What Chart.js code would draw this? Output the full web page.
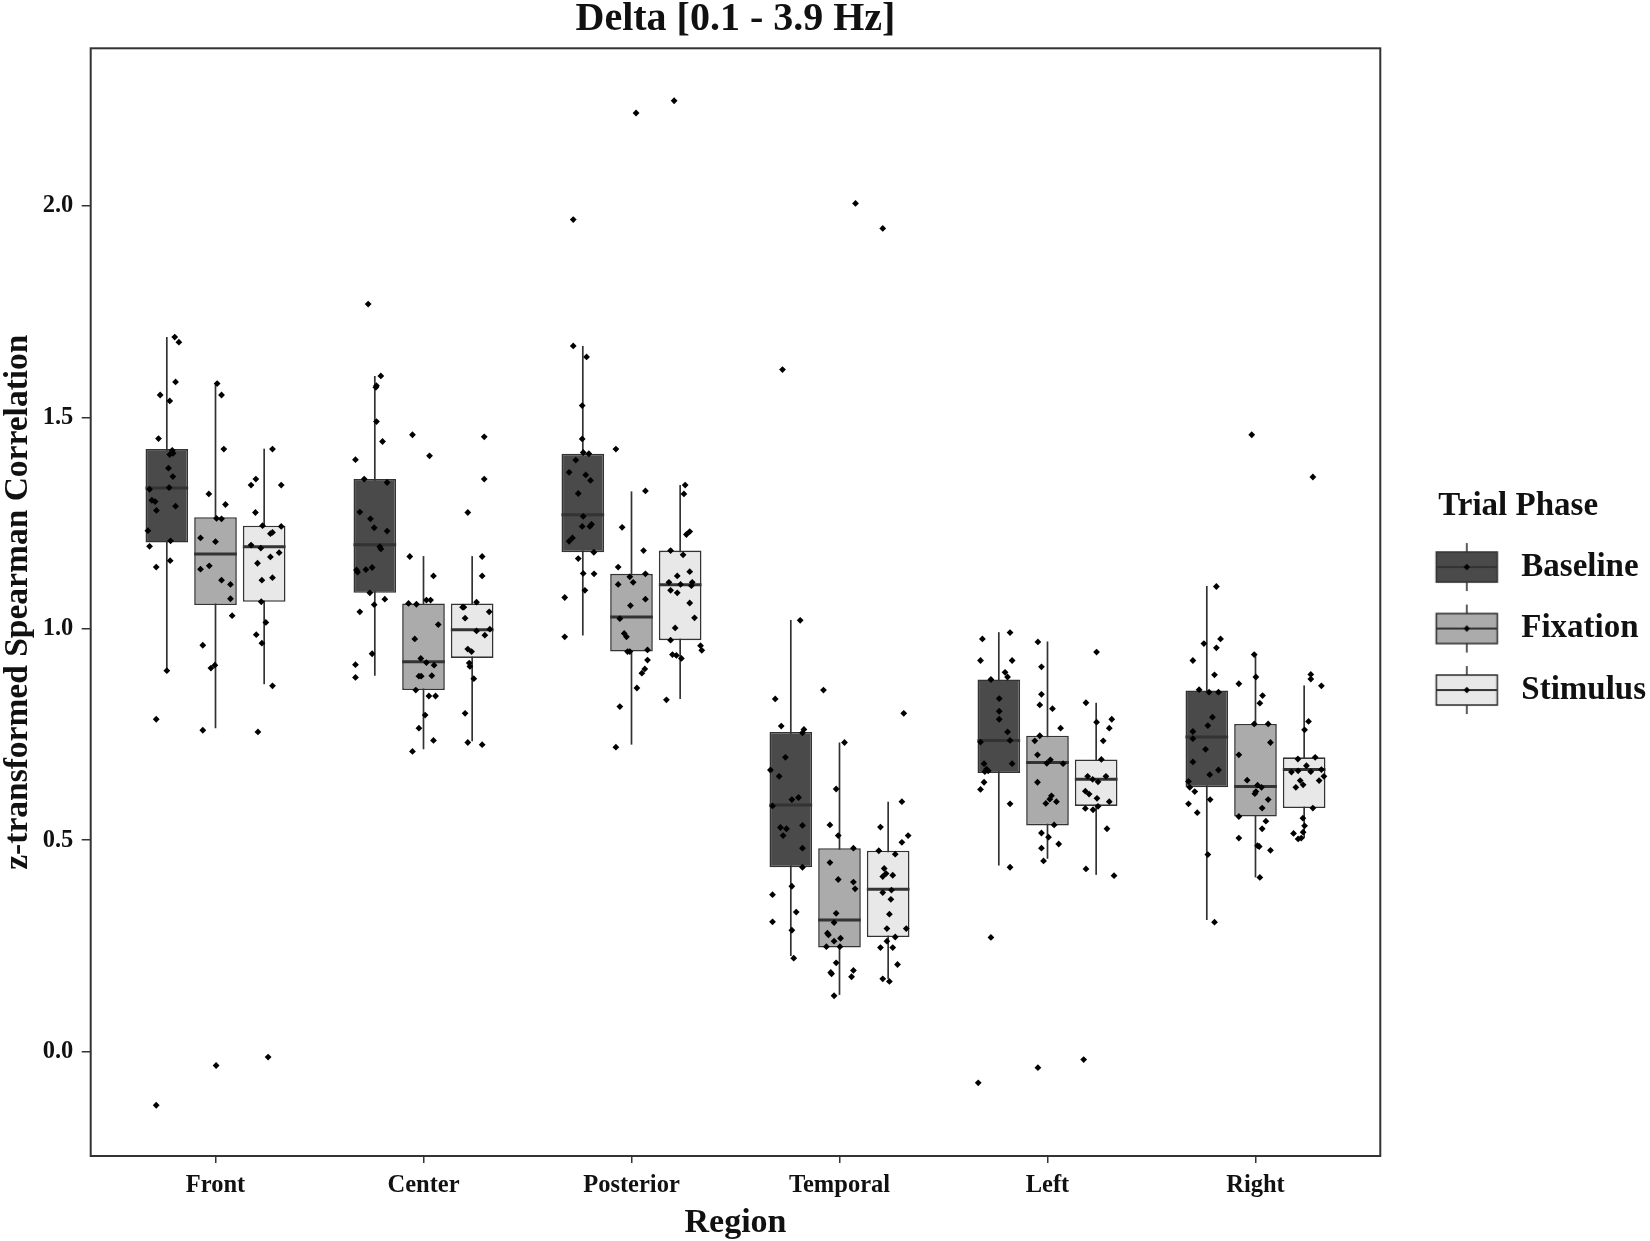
<!DOCTYPE html>
<html><head><meta charset="utf-8">
<script src="https://cdn.jsdelivr.net/npm/chart.js@4.4.1/dist/chart.umd.min.js"></script>
<style>html,body{margin:0;padding:0;background:#fff}#wrap{width:1650px;height:1241px}</style>
</head><body><div id="wrap"><canvas id="c" width="1650" height="1241"></canvas></div>
<script>
// ---------------- DATA ----------------
const regions = ["Front", "Center", "Posterior", "Temporal", "Left", "Right"];
const phases = ["Baseline", "Fixation", "Stimulus"];
const yTickValues = [0, 0.5, 1.0, 1.5, 2.0];

// box statistics per region (lower whisker, Q1, median, Q3, upper whisker)
const baselineLow    = [0.900, 0.889, 0.984, 0.226, 0.440, 0.311];
const baselineQ1     = [1.204, 1.085, 1.181, 0.436, 0.659, 0.625];
const baselineMedian = [1.333, 1.199, 1.270, 0.583, 0.736, 0.744];
const baselineQ3     = [1.425, 1.354, 1.414, 0.756, 0.880, 0.854];
const baselineHigh   = [1.690, 1.598, 1.669, 1.021, 0.992, 1.101];

const fixationLow    = [0.765, 0.715, 0.726, 0.134, 0.456, 0.412];
const fixationQ1     = [1.056, 0.855, 0.946, 0.246, 0.535, 0.556];
const fixationMedian = [1.177, 0.922, 1.028, 0.311, 0.684, 0.627];
const fixationQ3     = [1.264, 1.060, 1.130, 0.481, 0.747, 0.775];
const fixationHigh   = [1.580, 1.172, 1.325, 0.731, 0.970, 0.939];

const stimulusLow    = [0.869, 0.734, 0.834, 0.172, 0.418, 0.505];
const stimulusQ1     = [1.064, 0.931, 0.973, 0.271, 0.581, 0.576];
const stimulusMedian = [1.194, 0.998, 1.104, 0.384, 0.644, 0.667];
const stimulusQ3     = [1.244, 1.060, 1.185, 0.475, 0.691, 0.696];
const stimulusHigh   = [1.426, 1.172, 1.340, 0.591, 0.825, 0.866];

// individual subject values and their horizontal jitter (category units)
const frontBaseline = [1.690,1.678,1.584,1.553,1.539,1.450,1.422,1.412,1.415,1.380,1.360,1.330,1.334,1.304,1.301,1.280,1.290,1.232,1.195,1.208,1.146,1.161,0.901,0.786,-0.127];
const frontBaselineJitter = [0.038,0.058,0.042,-0.032,0.014,-0.040,0.026,0.014,0.030,0.008,0.029,-0.083,0.011,-0.072,-0.056,-0.050,0.042,-0.091,-0.083,0.018,-0.051,0.016,0.000,-0.051,-0.051];
const frontFixation = [1.580,1.553,1.425,1.319,1.294,1.215,1.261,1.260,1.206,1.149,1.141,1.115,1.105,1.071,1.031,0.961,0.907,0.914,0.760,-0.033];
const frontFixationJitter = [0.008,0.029,0.040,-0.032,0.048,-0.072,0.005,0.029,0.000,-0.030,-0.072,0.029,0.072,0.072,0.080,-0.061,-0.022,-0.003,-0.061,0.003];
const frontStimulus = [1.425,1.354,1.340,1.340,1.275,1.244,1.228,1.225,1.242,1.198,1.191,1.170,1.180,1.155,1.115,1.121,1.064,1.015,0.986,0.966,0.865,0.756,-0.013];
const frontStimulusJitter = [0.040,-0.040,-0.063,0.082,-0.042,-0.008,0.040,0.030,0.082,-0.063,-0.016,0.030,0.072,-0.032,-0.011,0.040,-0.014,0.008,-0.038,-0.011,0.040,-0.030,0.019];

const centerBaseline = [1.768,1.598,1.575,1.571,1.490,1.443,1.400,1.354,1.346,1.276,1.260,1.239,1.231,1.194,1.189,1.139,1.134,1.140,1.145,1.085,1.070,1.057,1.040,0.941,0.915,0.885];
const centerBaselineJitter = [-0.032,0.029,0.008,0.005,0.008,0.037,-0.093,-0.051,0.059,-0.072,-0.021,-0.003,0.059,0.024,0.029,-0.088,-0.083,-0.043,-0.013,-0.024,0.048,-0.003,-0.072,-0.013,-0.093,-0.093];
const centerFixation = [1.459,1.409,1.171,1.125,1.060,1.058,1.068,1.068,1.010,0.976,0.930,0.920,0.914,0.888,0.888,0.889,0.855,0.841,0.841,0.796,0.765,0.736,0.710];
const centerFixationJitter = [-0.053,0.029,-0.066,0.048,-0.072,-0.034,0.014,0.034,0.071,-0.042,-0.013,0.014,0.051,-0.022,-0.011,0.040,-0.037,0.026,0.058,0.008,-0.022,0.048,-0.053];
const centerStimulus = [1.454,1.354,1.275,1.171,1.125,1.051,1.051,1.063,1.040,1.025,0.995,0.999,0.985,0.952,0.946,0.919,0.911,0.882,0.800,0.731,0.726];
const centerStimulusJitter = [0.058,0.058,-0.021,0.048,0.048,-0.046,-0.040,0.021,0.082,-0.034,0.021,0.085,0.061,-0.021,-0.003,-0.014,-0.011,0.008,-0.034,-0.021,0.048];

const posteriorBaseline = [1.968,1.669,1.643,1.528,1.449,1.417,1.414,1.399,1.370,1.364,1.351,1.320,1.266,1.242,1.247,1.242,1.215,1.207,1.181,1.166,1.131,1.130,1.091,1.074,0.981];
const posteriorBaselineJitter = [-0.046,-0.046,0.018,-0.003,-0.003,0.002,0.029,-0.034,-0.066,0.014,0.037,-0.022,0.002,-0.003,0.042,0.034,-0.050,-0.066,0.053,-0.022,0.002,0.054,0.010,-0.087,-0.087];
const posteriorFixation = [2.220,1.425,1.326,1.240,1.185,1.146,1.105,1.123,1.110,1.130,1.070,1.055,1.024,0.989,0.981,0.946,0.946,0.950,0.926,0.905,0.895,0.860,0.816,0.720];
const posteriorFixationJitter = [0.022,-0.075,0.067,-0.045,0.058,-0.064,-0.064,-0.008,0.008,0.067,0.067,-0.005,-0.056,-0.035,-0.024,-0.019,-0.008,0.077,0.077,0.064,0.050,0.026,-0.056,-0.075];
const posteriorStimulus = [2.249,1.340,1.319,1.223,1.230,1.185,1.175,1.125,1.110,1.105,1.110,1.102,1.091,1.085,1.135,1.061,1.026,1.002,0.973,0.960,0.949,0.939,0.937,0.930,0.832];
const posteriorStimulusJitter = [-0.029,0.024,0.018,0.030,0.046,-0.046,0.014,-0.014,-0.054,0.002,0.058,0.054,-0.046,-0.014,0.046,0.046,0.069,-0.024,-0.046,0.098,0.104,-0.037,-0.018,0.006,-0.066];

const temporalBaseline = [1.613,1.020,0.834,0.770,0.762,0.754,0.696,0.666,0.651,0.601,0.596,0.581,0.530,0.527,0.511,0.535,0.481,0.436,0.391,0.371,0.330,0.307,0.287,0.221];
const temporalBaselineJitter = [-0.040,0.045,-0.075,-0.046,0.063,0.056,-0.026,-0.098,-0.056,0.037,0.005,-0.088,-0.050,-0.021,-0.037,0.056,0.056,0.056,0.005,-0.088,0.026,-0.088,0.005,0.014];
const temporalFixation = [2.006,0.855,0.731,0.621,0.536,0.511,0.481,0.447,0.407,0.401,0.385,0.327,0.305,0.280,0.276,0.268,0.261,0.248,0.248,0.210,0.187,0.184,0.192,0.177,0.132];
const temporalFixationJitter = [0.077,-0.077,0.024,-0.016,-0.046,-0.006,0.067,-0.046,-0.006,0.067,0.075,-0.016,-0.026,-0.058,-0.053,0.005,-0.026,-0.063,0.002,-0.016,-0.042,-0.038,0.067,0.058,-0.026];
const temporalStimulus = [1.947,0.800,0.591,0.531,0.511,0.495,0.475,0.467,0.433,0.414,0.417,0.421,0.376,0.382,0.360,0.325,0.291,0.291,0.271,0.261,0.246,0.246,0.206,0.172,0.166];
const temporalStimulusJitter = [-0.026,0.075,0.066,-0.037,0.096,0.066,-0.045,0.034,-0.019,-0.026,0.022,-0.010,-0.026,0.016,0.013,0.006,-0.006,0.087,0.034,-0.006,-0.037,0.022,0.045,-0.026,0.006];

const leftBaseline = [0.991,0.976,0.925,0.925,0.897,0.886,0.880,0.835,0.805,0.786,0.756,0.732,0.736,0.681,0.681,0.668,0.664,0.662,0.637,0.620,0.586,0.436,0.270,-0.074];
const leftBaselineJitter = [0.054,-0.079,-0.088,0.064,0.030,0.042,-0.038,0.002,0.002,0.002,0.042,-0.088,0.054,-0.071,0.064,-0.059,-0.051,-0.067,-0.071,-0.088,0.054,0.054,-0.038,-0.099];
const leftFixation = [0.969,0.910,0.845,0.820,0.811,0.765,0.747,0.735,0.702,0.690,0.682,0.681,0.637,0.605,0.597,0.587,0.591,0.536,0.517,0.507,0.481,0.491,0.451,-0.038];
const leftFixationJitter = [-0.046,-0.029,-0.029,-0.037,0.024,0.063,-0.037,-0.061,-0.048,0.014,-0.003,0.075,-0.048,0.019,0.011,-0.008,0.043,0.032,-0.029,0.005,-0.029,0.054,-0.019,-0.046];
const leftStimulus = [0.945,0.825,0.786,0.779,0.765,0.735,0.691,0.651,0.651,0.638,0.644,0.616,0.609,0.599,0.591,0.575,0.572,0.580,0.527,0.432,0.416,-0.019];
const leftStimulusJitter = [0.002,-0.049,0.075,0.002,0.063,0.034,0.025,-0.041,0.047,0.009,-0.017,-0.052,-0.034,0.004,0.063,-0.052,-0.015,0.009,0.052,-0.049,0.086,-0.060];

const rightBaseline = [1.100,0.976,0.955,0.965,0.925,0.891,0.856,0.850,0.850,0.791,0.771,0.757,0.740,0.715,0.685,0.666,0.655,0.639,0.625,0.615,0.596,0.586,0.565,0.466,0.306];
const rightBaselineJitter = [0.046,0.066,0.046,-0.014,-0.067,0.037,-0.037,0.011,0.056,0.027,0.005,-0.067,-0.067,-0.006,-0.067,0.056,0.014,-0.088,-0.082,-0.058,0.016,-0.088,-0.046,0.005,0.037];
const rightFixation = [1.459,0.939,0.886,0.870,0.842,0.824,0.775,0.775,0.731,0.702,0.642,0.630,0.625,0.615,0.610,0.596,0.576,0.556,0.545,0.527,0.505,0.487,0.485,0.476,0.412];
const rightFixationJitter = [-0.018,-0.006,0.002,-0.080,0.034,0.021,-0.006,0.061,0.072,-0.080,-0.040,0.010,0.029,0.002,-0.003,0.061,0.032,-0.080,0.050,0.032,-0.080,0.010,0.018,0.072,0.021];
const rightStimulus = [1.359,0.892,0.881,0.865,0.781,0.761,0.696,0.692,0.661,0.664,0.676,0.662,0.667,0.641,0.631,0.641,0.651,0.625,0.576,0.552,0.534,0.519,0.516,0.503,0.505];
const rightStimulusJitter = [0.042,0.032,0.032,0.083,0.021,0.002,0.053,-0.030,-0.061,-0.029,0.011,0.032,0.083,-0.019,-0.005,0.072,0.095,-0.040,0.042,-0.006,0.002,-0.005,-0.051,-0.029,-0.014];

// ---------------- BUILD ----------------
const FONT = "'Liberation Serif', 'Times New Roman', serif";
const TEXT = '#111111';
const LINE = '#333333';
const fills = ['#4a4a4a', '#ababab', '#e8e8e8'];
const dodge = [-0.234, 0, 0.234];

const boxStats = [
  {low: baselineLow, q1: baselineQ1, med: baselineMedian, q3: baselineQ3, high: baselineHigh},
  {low: fixationLow, q1: fixationQ1, med: fixationMedian, q3: fixationQ3, high: fixationHigh},
  {low: stimulusLow, q1: stimulusQ1, med: stimulusMedian, q3: stimulusQ3, high: stimulusHigh}
];
const pointTable = [
  [[frontBaseline, frontBaselineJitter], [frontFixation, frontFixationJitter], [frontStimulus, frontStimulusJitter]],
  [[centerBaseline, centerBaselineJitter], [centerFixation, centerFixationJitter], [centerStimulus, centerStimulusJitter]],
  [[posteriorBaseline, posteriorBaselineJitter], [posteriorFixation, posteriorFixationJitter], [posteriorStimulus, posteriorStimulusJitter]],
  [[temporalBaseline, temporalBaselineJitter], [temporalFixation, temporalFixationJitter], [temporalStimulus, temporalStimulusJitter]],
  [[leftBaseline, leftBaselineJitter], [leftFixation, leftFixationJitter], [leftStimulus, leftStimulusJitter]],
  [[rightBaseline, rightBaselineJitter], [rightFixation, rightFixationJitter], [rightStimulus, rightStimulusJitter]]
];

const scatterData = [];
pointTable.forEach((row, i) => row.forEach(([vals, jit], k) => {
  vals.forEach((v, j) => scatterData.push({x: i + 1 + dodge[k] + jit[j], y: v}));
}));

const boxDatasets = phases.map((p, k) => ({
  type: 'bar',
  label: p,
  data: regions.map((r, i) => ({x: i + 1 + dodge[k], y: [boxStats[k].q1[i], boxStats[k].q3[i]]})),
  backgroundColor: fills[k],
  borderColor: LINE,
  borderWidth: 1.6,
  borderSkipped: false,
  grouped: false,
  categoryPercentage: 1,
  barPercentage: 0.876,
  order: 2
}));

// legend key glyphs (boxplot key with whisker, median and point)
const KEY_W = 96;
function makeKey(fill) {
  const c = document.createElement('canvas');
  c.width = KEY_W; c.height = 52;
  const g = c.getContext('2d');
  const x0 = 27.5, w = 61, cx = x0 + w / 2;
  g.strokeStyle = LINE; g.lineWidth = 1.6;
  g.beginPath(); g.moveTo(cx, 2); g.lineTo(cx, 50); g.stroke();
  g.fillStyle = fill; g.fillRect(x0, 11, w, 30);
  g.strokeRect(x0, 11, w, 30);
  g.lineWidth = 2;
  g.beginPath(); g.moveTo(x0, 26); g.lineTo(x0 + w, 26); g.stroke();
  g.fillStyle = '#000';
  g.beginPath(); g.moveTo(cx, 22.8); g.lineTo(cx + 3.2, 26); g.lineTo(cx, 29.2); g.lineTo(cx - 3.2, 26); g.closePath(); g.fill();
  return c;
}
const keyImages = fills.map(makeKey);

const boxPlugin = {
  id: 'boxParts',
  beforeDatasetDraw(chart, args) {
    const k = args.index;
    if (k > 2) return;
    const xs = chart.scales.x, ys = chart.scales.y, ctx = chart.ctx;
    const s = boxStats[k];
    ctx.save();
    ctx.strokeStyle = LINE; ctx.lineWidth = 1.7;
    regions.forEach((r, i) => {
      const x = xs.getPixelForValue(i + 1 + dodge[k]);
      ctx.beginPath();
      ctx.moveTo(x, ys.getPixelForValue(s.low[i]));
      ctx.lineTo(x, ys.getPixelForValue(s.high[i]));
      ctx.stroke();
    });
    ctx.restore();
  },
  afterDatasetDraw(chart, args) {
    const k = args.index;
    if (k > 2) return;
    const xs = chart.scales.x, ys = chart.scales.y, ctx = chart.ctx;
    const meta = chart.getDatasetMeta(k);
    const s = boxStats[k];
    ctx.save();
    ctx.strokeStyle = LINE; ctx.lineWidth = 3;
    regions.forEach((r, i) => {
      const el = meta.data[i];
      const x = xs.getPixelForValue(i + 1 + dodge[k]);
      const hw = el.width / 2;
      const y = ys.getPixelForValue(s.med[i]);
      ctx.beginPath(); ctx.moveTo(x - hw, y); ctx.lineTo(x + hw, y); ctx.stroke();
    });
    ctx.restore();
  },
  afterDatasetsDraw(chart) {
    const a = chart.chartArea, ctx = chart.ctx;
    ctx.save();
    ctx.strokeStyle = LINE; ctx.lineWidth = 2;
    ctx.strokeRect(a.left, a.top, a.right - a.left, a.bottom - a.top);
    ctx.restore();
  }
};

Chart.defaults.font.family = FONT;
Chart.defaults.color = TEXT;

new Chart(document.getElementById('c'), {
  type: 'bar',
  data: {
    datasets: [
      ...boxDatasets,
      {
        type: 'scatter',
        label: 'subjects',
        data: scatterData,
        pointStyle: 'rectRot',
        pointRadius: 3.4,
        pointHoverRadius: 3.4,
        backgroundColor: '#000',
        borderWidth: 0,
        order: 0
      }
    ]
  },
  options: {
    responsive: false,
    devicePixelRatio: 1,
    animation: false,
    layout: {autoPadding: false, padding: {left: 0, right: -6, top: 0, bottom: 0}},
    plugins: {
      tooltip: {enabled: false},
      title: {
        display: true,
        text: 'Delta [0.1 - 3.9 Hz]',
        fullSize: false,
        color: TEXT,
        font: {family: FONT, size: 40, weight: 'bold', lineHeight: 1.0},
        padding: {top: 0, bottom: 8.3}
      },
      legend: {
        display: true,
        position: 'right',
        fullSize: false,
        onClick: null,
        title: {
          display: true,
          text: 'Trial Phase',
          color: TEXT,
          position: 'center',
          font: {family: FONT, size: 33, weight: 'bold', lineHeight: 0.985},
          padding: {top: 20.2, bottom: 0}
        },
        labels: {
          usePointStyle: true,
          pointStyleWidth: KEY_W,
          padding: 28.5,
          color: TEXT,
          font: {family: FONT, size: 33, weight: 'bold'},
          generateLabels: () => phases.map((p, k) => ({
            text: p, pointStyle: keyImages[k], fillStyle: fills[k], strokeStyle: LINE,
            lineWidth: 0, hidden: false, datasetIndex: k, fontColor: TEXT
          }))
        }
      }
    },
    scales: {
      x: {
        type: 'linear',
        min: 0.4,
        max: 6.6,
        offset: false,
        afterBuildTicks: scale => { scale.ticks = regions.map((r, i) => ({value: i + 1})); },
        afterFit: scale => { scale.height = 85; },
        ticks: {
          autoSkip: false,
          maxRotation: 0,
          padding: 8,
          color: TEXT,
          font: {family: FONT, size: 24.5, weight: 'bold'},
          callback: v => regions[Math.round(v) - 1]
        },
        grid: {display: true, offset: false, drawOnChartArea: false, drawTicks: true, tickLength: 7, color: LINE, lineWidth: 1.5},
        border: {display: false},
        title: {
          display: true, text: 'Region', color: TEXT,
          font: {family: FONT, size: 34, weight: 'bold', lineHeight: 1.05},
          padding: {top: 4, bottom: 0}
        }
      },
      y: {
        type: 'linear',
        min: -0.247,
        max: 2.373,
        afterBuildTicks: scale => { scale.ticks = yTickValues.map(v => ({value: v})); },
        afterFit: scale => { scale.width = 90.7; },
        ticks: {
          padding: 8.4,
          color: TEXT,
          font: {family: FONT, size: 24.5, weight: 'bold'},
          callback: v => Number(v).toFixed(1)
        },
        grid: {display: true, drawOnChartArea: false, drawTicks: true, tickLength: 9, color: LINE, lineWidth: 1.5},
        border: {display: false},
        title: {
          display: true, text: 'z-transformed Spearman Correlation', color: TEXT,
          font: {family: FONT, size: 33.5, weight: 'bold', lineHeight: 1.1},
          padding: {top: 0, bottom: 0}
        }
      }
    }
  },
  plugins: [boxPlugin]
});
</script>
</body></html>
